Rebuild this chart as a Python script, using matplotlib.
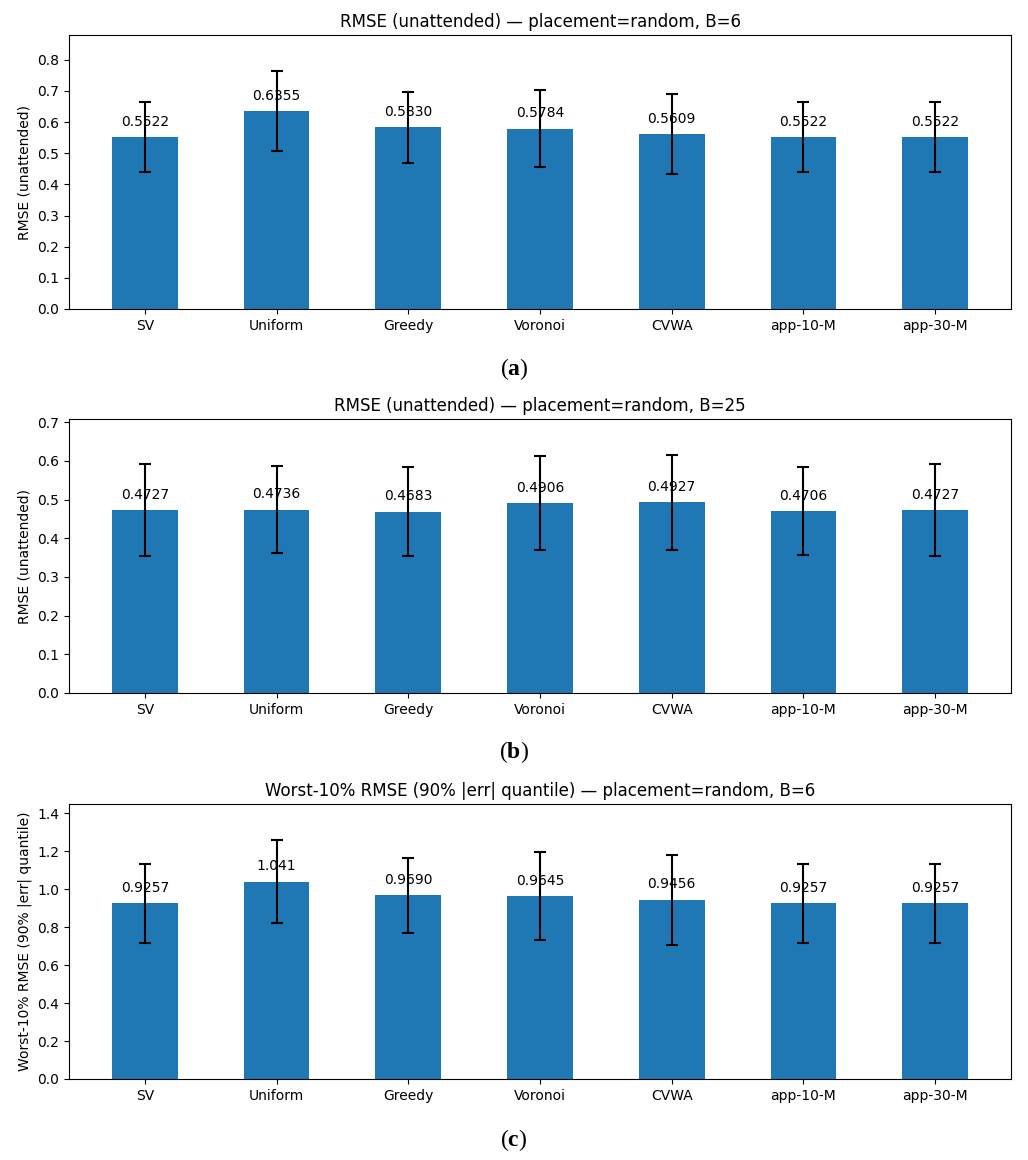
import numpy as np
import matplotlib
matplotlib.use("Agg")
import matplotlib.pyplot as plt

methods = ["SV", "Uniform", "Greedy", "Voronoi", "CVWA", "app-10-M", "app-30-M"]

rmse_b6 = [0.5522, 0.6355, 0.5830, 0.5784, 0.5609, 0.5522, 0.5522]
rmse_b6_err = [0.1125, 0.129, 0.114, 0.123, 0.128, 0.113, 0.113]

rmse_b25 = [0.4727, 0.4736, 0.4683, 0.4906, 0.4927, 0.4706, 0.4727]
rmse_b25_err = [0.118, 0.112, 0.115, 0.122, 0.123, 0.113, 0.118]

worst_b6 = [0.9257, 1.041, 0.9690, 0.9645, 0.9456, 0.9257, 0.9257]
worst_b6_err = [0.210, 0.2195, 0.198, 0.230, 0.237, 0.210, 0.210]

titles = ["RMSE (unattended) \u2014 placement=random, B=6",
          "RMSE (unattended) \u2014 placement=random, B=25",
          "Worst-10% RMSE (90% |err| quantile) \u2014 placement=random, B=6"]
ylabels = ["RMSE (unattended)", "RMSE (unattended)",
           "Worst-10% RMSE (90% |err| quantile)"]
captions = ["a", "b", "c"]

plt.rcParams['mathtext.fontset'] = 'custom'
plt.rcParams['mathtext.bf'] = 'Liberation Serif:bold'
plt.rcParams['mathtext.rm'] = 'Liberation Serif'

W, H = 1028, 1160
fig = plt.figure(figsize=(W/100, H/100), dpi=100)

# axes boxes in pixels: left, right, top, bottom
boxes = [(69, 1011, 35, 309), (69, 1011, 419, 693), (69, 1011, 804, 1079)]
caption_y = [369, 752, 1140]

def fmt(v):
    return f"{v:.4f}" if v < 1 else f"{v:.3f}"

panels = [(rmse_b6, rmse_b6_err), (rmse_b25, rmse_b25_err), (worst_b6, worst_b6_err)]

for i, (vals, errs) in enumerate(panels):
    l, r, t, b = boxes[i]
    ax = fig.add_axes([l/W, 1 - b/H, (r - l)/W, (b - t)/H])
    x = np.arange(len(methods))
    ax.bar(x, vals, width=0.5, color="#1f77b4", yerr=errs, capsize=4,
           error_kw=dict(ecolor="black", elinewidth=1.5, capthick=1.5))
    for xi, v in zip(x, vals):
        ax.annotate(fmt(v), (xi, v), xytext=(0, 6), textcoords="offset points",
                    ha="center", va="bottom", fontsize=10)
    top = max(np.array(vals) + np.array(errs)) * 1.15
    ax.set_ylim(0, top)
    ax.set_xticks(x)
    ax.set_xticklabels(methods, fontsize=10)
    ax.tick_params(axis='y', labelsize=10)
    ax.set_ylabel(ylabels[i], fontsize=10)
    ax.set_title(titles[i], fontsize=12)
    fig.text(0.5, 1 - caption_y[i]/H, r"($\mathbf{%s}$)" % captions[i],
             ha="center", va="center", fontsize=17, family="Liberation Serif")

fig.savefig("out.png", dpi=100)
